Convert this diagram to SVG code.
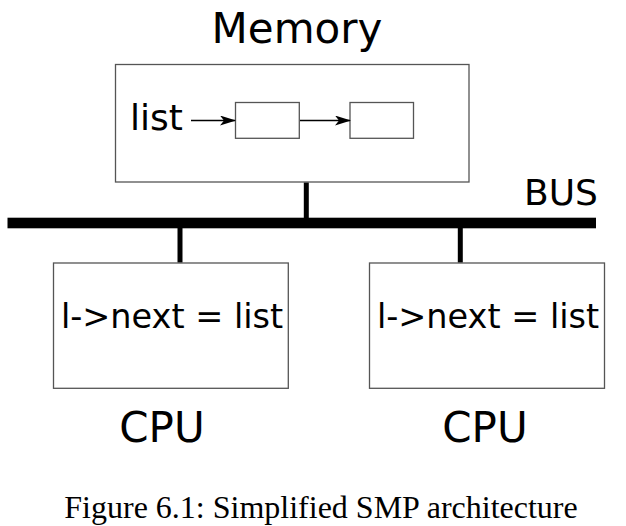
<svg xmlns="http://www.w3.org/2000/svg" width="626" height="526" viewBox="0 0 626 526">
<style>
.box{fill:#fff;stroke:#555;stroke-width:1.3}
.t{font-family:"DejaVu Sans",sans-serif;fill:#000}
.stem{stroke:#000;stroke-width:5}
.arr{stroke:#000;stroke-width:1.6;fill:none}
</style>
<defs>
<marker id="ah" viewBox="0 0 16 10" refX="15" refY="5" markerWidth="16" markerHeight="10" markerUnits="userSpaceOnUse" orient="auto">
<path d="M0,0 L16,5 L0,10 L4,5 Z" fill="#000"/>
</marker>
</defs>
<rect width="626" height="526" fill="#fff"/>
<g id="bus">
<rect x="7.5" y="217.7" width="588.5" height="10.6" fill="#000"/>
<text class="t" x="524" y="205" font-size="36">BUS</text>
</g>
<g id="memory">
<text class="t" x="297" y="43" font-size="42" text-anchor="middle">Memory</text>
<rect class="box" x="115.5" y="64.5" width="353.5" height="117.5"/>
<text class="t" x="130" y="130" font-size="36">list</text>
</g>
<g id="node1">
<rect class="box" x="235.5" y="102.5" width="63.8" height="35.8"/>
</g>
<g id="node2">
<rect class="box" x="350" y="102.5" width="63.5" height="35.8"/>
</g>
<g id="cpu1">
<rect class="box" x="53.5" y="263" width="234.8" height="125.3"/>
<text class="t" x="172" y="327.5" font-size="33.5" text-anchor="middle">l-&gt;next = list</text>
<text class="t" x="162" y="441.7" font-size="42" text-anchor="middle">CPU</text>
</g>
<g id="cpu2">
<rect class="box" x="369.5" y="263" width="235" height="125.3"/>
<text class="t" x="488" y="327.5" font-size="33.5" text-anchor="middle">l-&gt;next = list</text>
<text class="t" x="485" y="441.7" font-size="42" text-anchor="middle">CPU</text>
</g>
<g id="connectors">
<line class="stem" x1="306.3" y1="182.6" x2="306.3" y2="220"/>
<line class="stem" x1="180" y1="226" x2="180" y2="262.4"/>
<line class="stem" x1="460.3" y1="226" x2="460.3" y2="262.4"/>
<line class="arr" x1="191" y1="120.5" x2="235" y2="120.5" marker-end="url(#ah)"/>
<line class="arr" x1="300" y1="120.5" x2="350" y2="120.5" marker-end="url(#ah)"/>
</g>
<text x="321" y="518" font-family="'Liberation Serif',serif" font-size="32" text-anchor="middle" fill="#000">Figure 6.1: Simplified SMP architecture</text>
</svg>
